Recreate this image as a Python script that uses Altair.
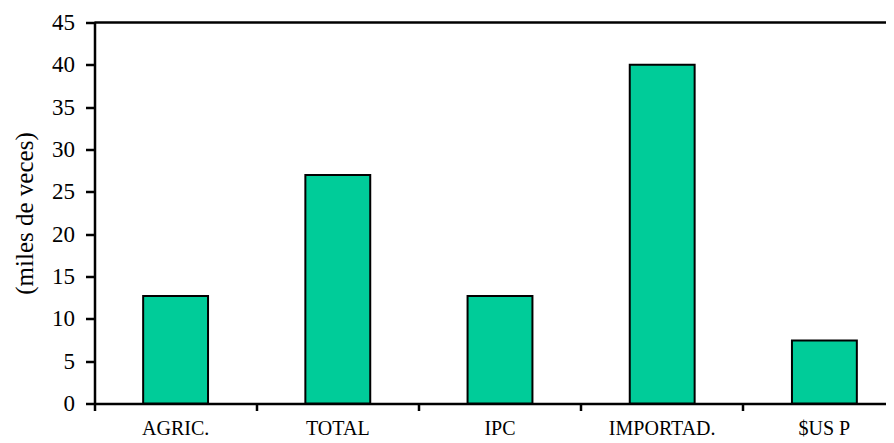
import altair as alt
import pandas as pd

categories = ["AGRIC.", "TOTAL", "IPC", "IMPORTAD.", "$US P"]
values = [12.7, 27.0, 12.7, 40.0, 7.45]
y_ticks = [0, 5, 10, 15, 20, 25, 30, 35, 40, 45]
y_title = "(miles de veces)"

df = pd.DataFrame({"cat": categories, "val": values})
FONT = "Liberation Serif"

bars = alt.Chart(df).mark_bar(
    color="#00CC99", stroke="black", strokeWidth=2,
    width=alt.RelativeBandSize(0.4),
).encode(
    x=alt.X(
        "cat:N", sort=None, title=None,
        scale=alt.Scale(range=[0, 811], paddingInner=0, paddingOuter=0),
        axis=alt.Axis(
            labelAngle=0, bandPosition=0, tickSize=7, tickWidth=2.5,
            domainWidth=2.5, labelFontSize=20, labelPadding=8,
        ),
    ),
    y=alt.Y(
        "val:Q",
        scale=alt.Scale(domain=[0, 45]),
        axis=alt.Axis(
            values=y_ticks, title=y_title, grid=False, tickSize=9, tickWidth=2.5,
            domainWidth=2.5, labelFontSize=23, labelPadding=11,
            titleFontSize=25, titleX=-70.5, titleBaseline="middle",
        ),
    ),
)

top = alt.Chart(pd.DataFrame({"v": [y_ticks[-1]]})).mark_rule(
    color="black", strokeWidth=2.5
).encode(y=alt.datum(y_ticks[-1]))

chart = alt.layer(bars, top).properties(
    width=791.5, height=381,
    autosize=alt.AutoSizeParams(type="none"),
    padding={"left": 86.5, "top": 14.5, "right": 0, "bottom": 38},
).configure(font=FONT).configure_view(stroke=None).configure_axis(
    labelFont=FONT, titleFont=FONT, labelColor="black", titleColor="black",
    domainColor="black", tickColor="black", titleFontWeight="normal",
)

chart.save("out.html", embed_options={"renderer": "svg", "actions": False})
